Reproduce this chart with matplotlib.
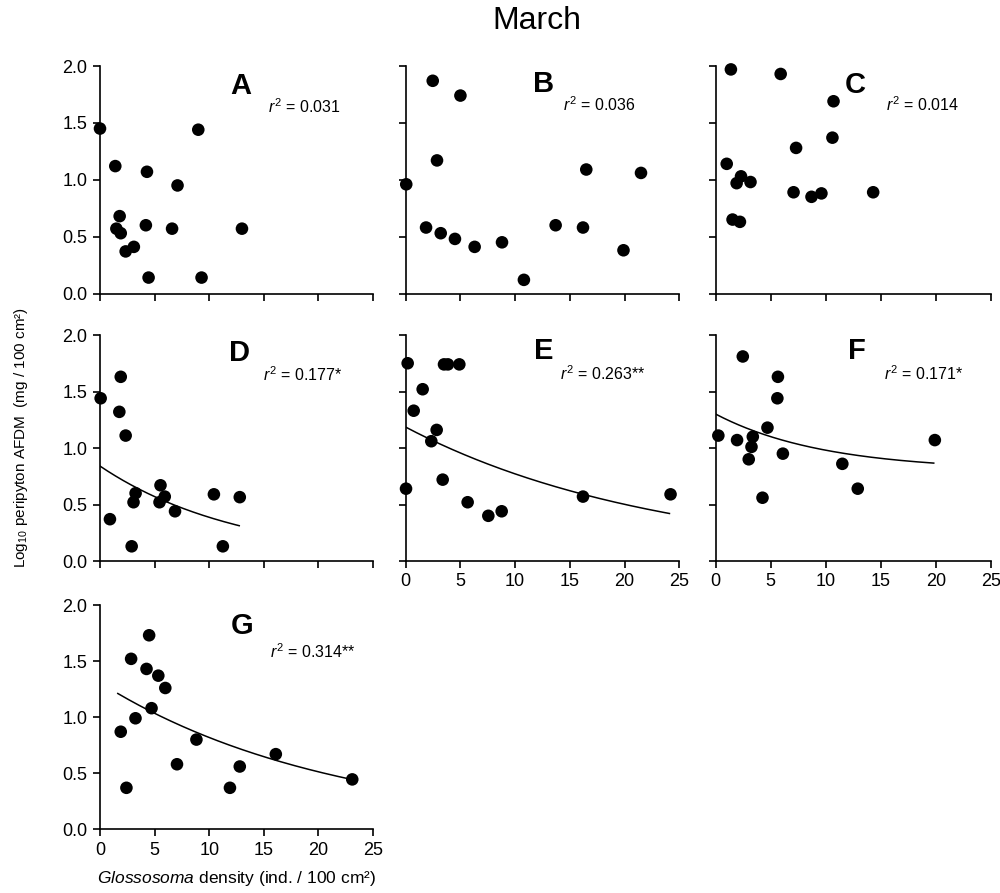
import numpy as np
import matplotlib
matplotlib.use("Agg")
import matplotlib.pyplot as plt

plt.rcParams["font.family"] = ["Liberation Sans", "DejaVu Sans"]
plt.rcParams["mathtext.fontset"] = "custom"
plt.rcParams["mathtext.rm"] = "Liberation Sans"
plt.rcParams["mathtext.it"] = "Liberation Sans:italic"
plt.rcParams["mathtext.bf"] = "Liberation Sans:bold"

# Glossosoma density (x) and log10 periphyton AFDM (y), per panel
a_x = [0.0, 1.4, 4.3, 9.0, 7.1, 1.8, 1.5, 1.9, 2.35, 3.1, 4.2, 6.6, 13.0, 4.45, 9.3]
a_y = [1.45, 1.12, 1.07, 1.44, 0.95, 0.68, 0.57, 0.53, 0.37, 0.41, 0.60, 0.57, 0.57, 0.14, 0.14]

b_x = [2.47, 5.0, 2.86, 0.05, 16.5, 21.5, 1.86, 3.2, 4.5, 6.3, 8.8, 10.8, 13.7, 16.2, 19.9]
b_y = [1.87, 1.74, 1.17, 0.96, 1.09, 1.06, 0.58, 0.53, 0.48, 0.41, 0.45, 0.12, 0.60, 0.58, 0.38]

c_x = [1.38, 5.9, 10.7, 10.6, 7.3, 1.0, 2.3, 1.9, 3.16, 7.07, 8.7, 9.6, 14.3, 1.53, 2.2]
c_y = [1.97, 1.93, 1.69, 1.37, 1.28, 1.14, 1.03, 0.97, 0.98, 0.89, 0.85, 0.88, 0.89, 0.65, 0.63]

d_x = [0.06, 1.9, 1.77, 2.35, 0.91, 3.26, 3.07, 2.9, 5.54, 5.93, 5.45, 6.87, 10.43, 12.8, 11.25]
d_y = [1.44, 1.63, 1.32, 1.11, 0.37, 0.60, 0.52, 0.13, 0.67, 0.57, 0.52, 0.44, 0.59, 0.565, 0.13]

e_x = [0.18, 0.03, 0.73, 1.55, 2.83, 2.34, 3.5, 3.86, 4.9, 3.38, 5.66, 7.55, 8.77, 16.2, 24.2]
e_y = [1.75, 0.64, 1.33, 1.52, 1.16, 1.06, 1.74, 1.74, 1.74, 0.72, 0.52, 0.40, 0.44, 0.57, 0.59]

f_x = [2.46, 5.65, 5.6, 4.7, 0.24, 1.94, 3.37, 3.25, 3.0, 6.1, 4.25, 11.5, 12.9, 19.9]
f_y = [1.81, 1.63, 1.44, 1.18, 1.11, 1.07, 1.10, 1.01, 0.90, 0.95, 0.56, 0.86, 0.64, 1.07]

g_x = [4.5, 2.85, 4.26, 5.34, 5.98, 4.72, 3.25, 1.9, 8.83, 7.05, 12.8, 16.1, 2.42, 11.9, 23.1]
g_y = [1.73, 1.52, 1.43, 1.37, 1.26, 1.08, 0.99, 0.87, 0.80, 0.58, 0.56, 0.67, 0.37, 0.37, 0.445]

panel_letters = ["A", "B", "C", "D", "E", "F", "G"]
r2_labels = ["0.031", "0.036", "0.014", "0.177*", "0.263**", "0.171*", "0.314**"]

# fitted curves y = c + a * exp(b * x) for panels D-G
fit_panels = ["D", "E", "F", "G"]
fit_a = [0.84, 1.185, 0.50, 1.307]
fit_b = [-0.0776, -0.043, -0.102, -0.0468]
fit_c = [0.0, 0.0, 0.80, 0.0]
fit_x0 = [0.0, 0.0, 0.0, 1.63]
fit_x1 = [12.75, 24.1, 19.8, 23.0]

xticks = [0, 5, 10, 15, 20, 25]
yticks = [0.0, 0.5, 1.0, 1.5, 2.0]

W, H = 1000, 893
fig = plt.figure(figsize=(W / 100, H / 100), dpi=100)

# axes boxes in pixels: (left, right) per column, (top, bottom) per row
cols = [(100, 373), (405.7, 679.3), (715.7, 991)]
rows = [(66, 293.5), (335, 561), (605, 829.3)]

data = [(a_x, a_y), (b_x, b_y), (c_x, c_y), (d_x, d_y), (e_x, e_y), (f_x, f_y), (g_x, g_y)]
letter_pos = [(12.9, 1.82, 15.4, 1.64), (12.6, 1.84, 14.4, 1.66), (12.7, 1.83, 15.5, 1.66),
              (12.8, 1.84, 14.9, 1.65), (12.6, 1.86, 14.1, 1.66), (12.8, 1.86, 15.3, 1.66),
              (13.0, 1.81, 15.6, 1.58)]

for i, letter in enumerate(panel_letters):
    r, c = divmod(i, 3)
    (l, rt), (t, b) = cols[c], rows[r]
    ax = fig.add_axes([l / W, 1 - b / H, (rt - l) / W, (b - t) / H])
    xs, ys = data[i]
    ax.scatter(xs, ys, s=82, color="black", edgecolors="none", clip_on=False, zorder=3)

    if letter in fit_panels:
        k = fit_panels.index(letter)
        xx = np.linspace(fit_x0[k], fit_x1[k], 200)
        ax.plot(xx, fit_c[k] + fit_a[k] * np.exp(fit_b[k] * xx), color="black", lw=1.1)

    lx, ly, rx, ry = letter_pos[i]
    ax.text(lx, ly, letter, fontsize=21, fontweight="bold", ha="center", va="center")
    ax.text(rx, ry, r"$\it{r}^{2}$ = " + r2_labels[i], fontsize=11.5, ha="left", va="center")

    ax.set_xlim(0, 25)
    ax.set_ylim(0, 2)
    ax.set_xticks(xticks)
    ax.set_yticks(yticks)
    for side in ("top", "right"):
        ax.spines[side].set_visible(False)
    for side in ("left", "bottom"):
        ax.spines[side].set_linewidth(1.2)
    ax.tick_params(direction="out", length=5, width=1.2, labelsize=13, pad=4)

    if c == 0:
        ax.set_yticklabels([f"{v:.1f}" for v in yticks])
    else:
        ax.set_yticklabels([])
    if letter in ("E", "F", "G"):
        ax.set_xticklabels([str(v) for v in xticks])
    else:
        ax.set_xticklabels([])

    if letter == "G":
        ax.set_xlabel(r"$\it{Glossosoma}$ density (ind. / 100 cm²)", fontsize=12.5, labelpad=7)

fig.text(0.021, 0.51, r"Log$_{10}$ peripyton AFDM  (mg / 100 cm²)", rotation=90,
         fontsize=11, ha="center", va="center")
fig.text(0.537, 0.976, "March", fontsize=23, ha="center", va="center")

fig.savefig("out.png", dpi=100, facecolor="white")
